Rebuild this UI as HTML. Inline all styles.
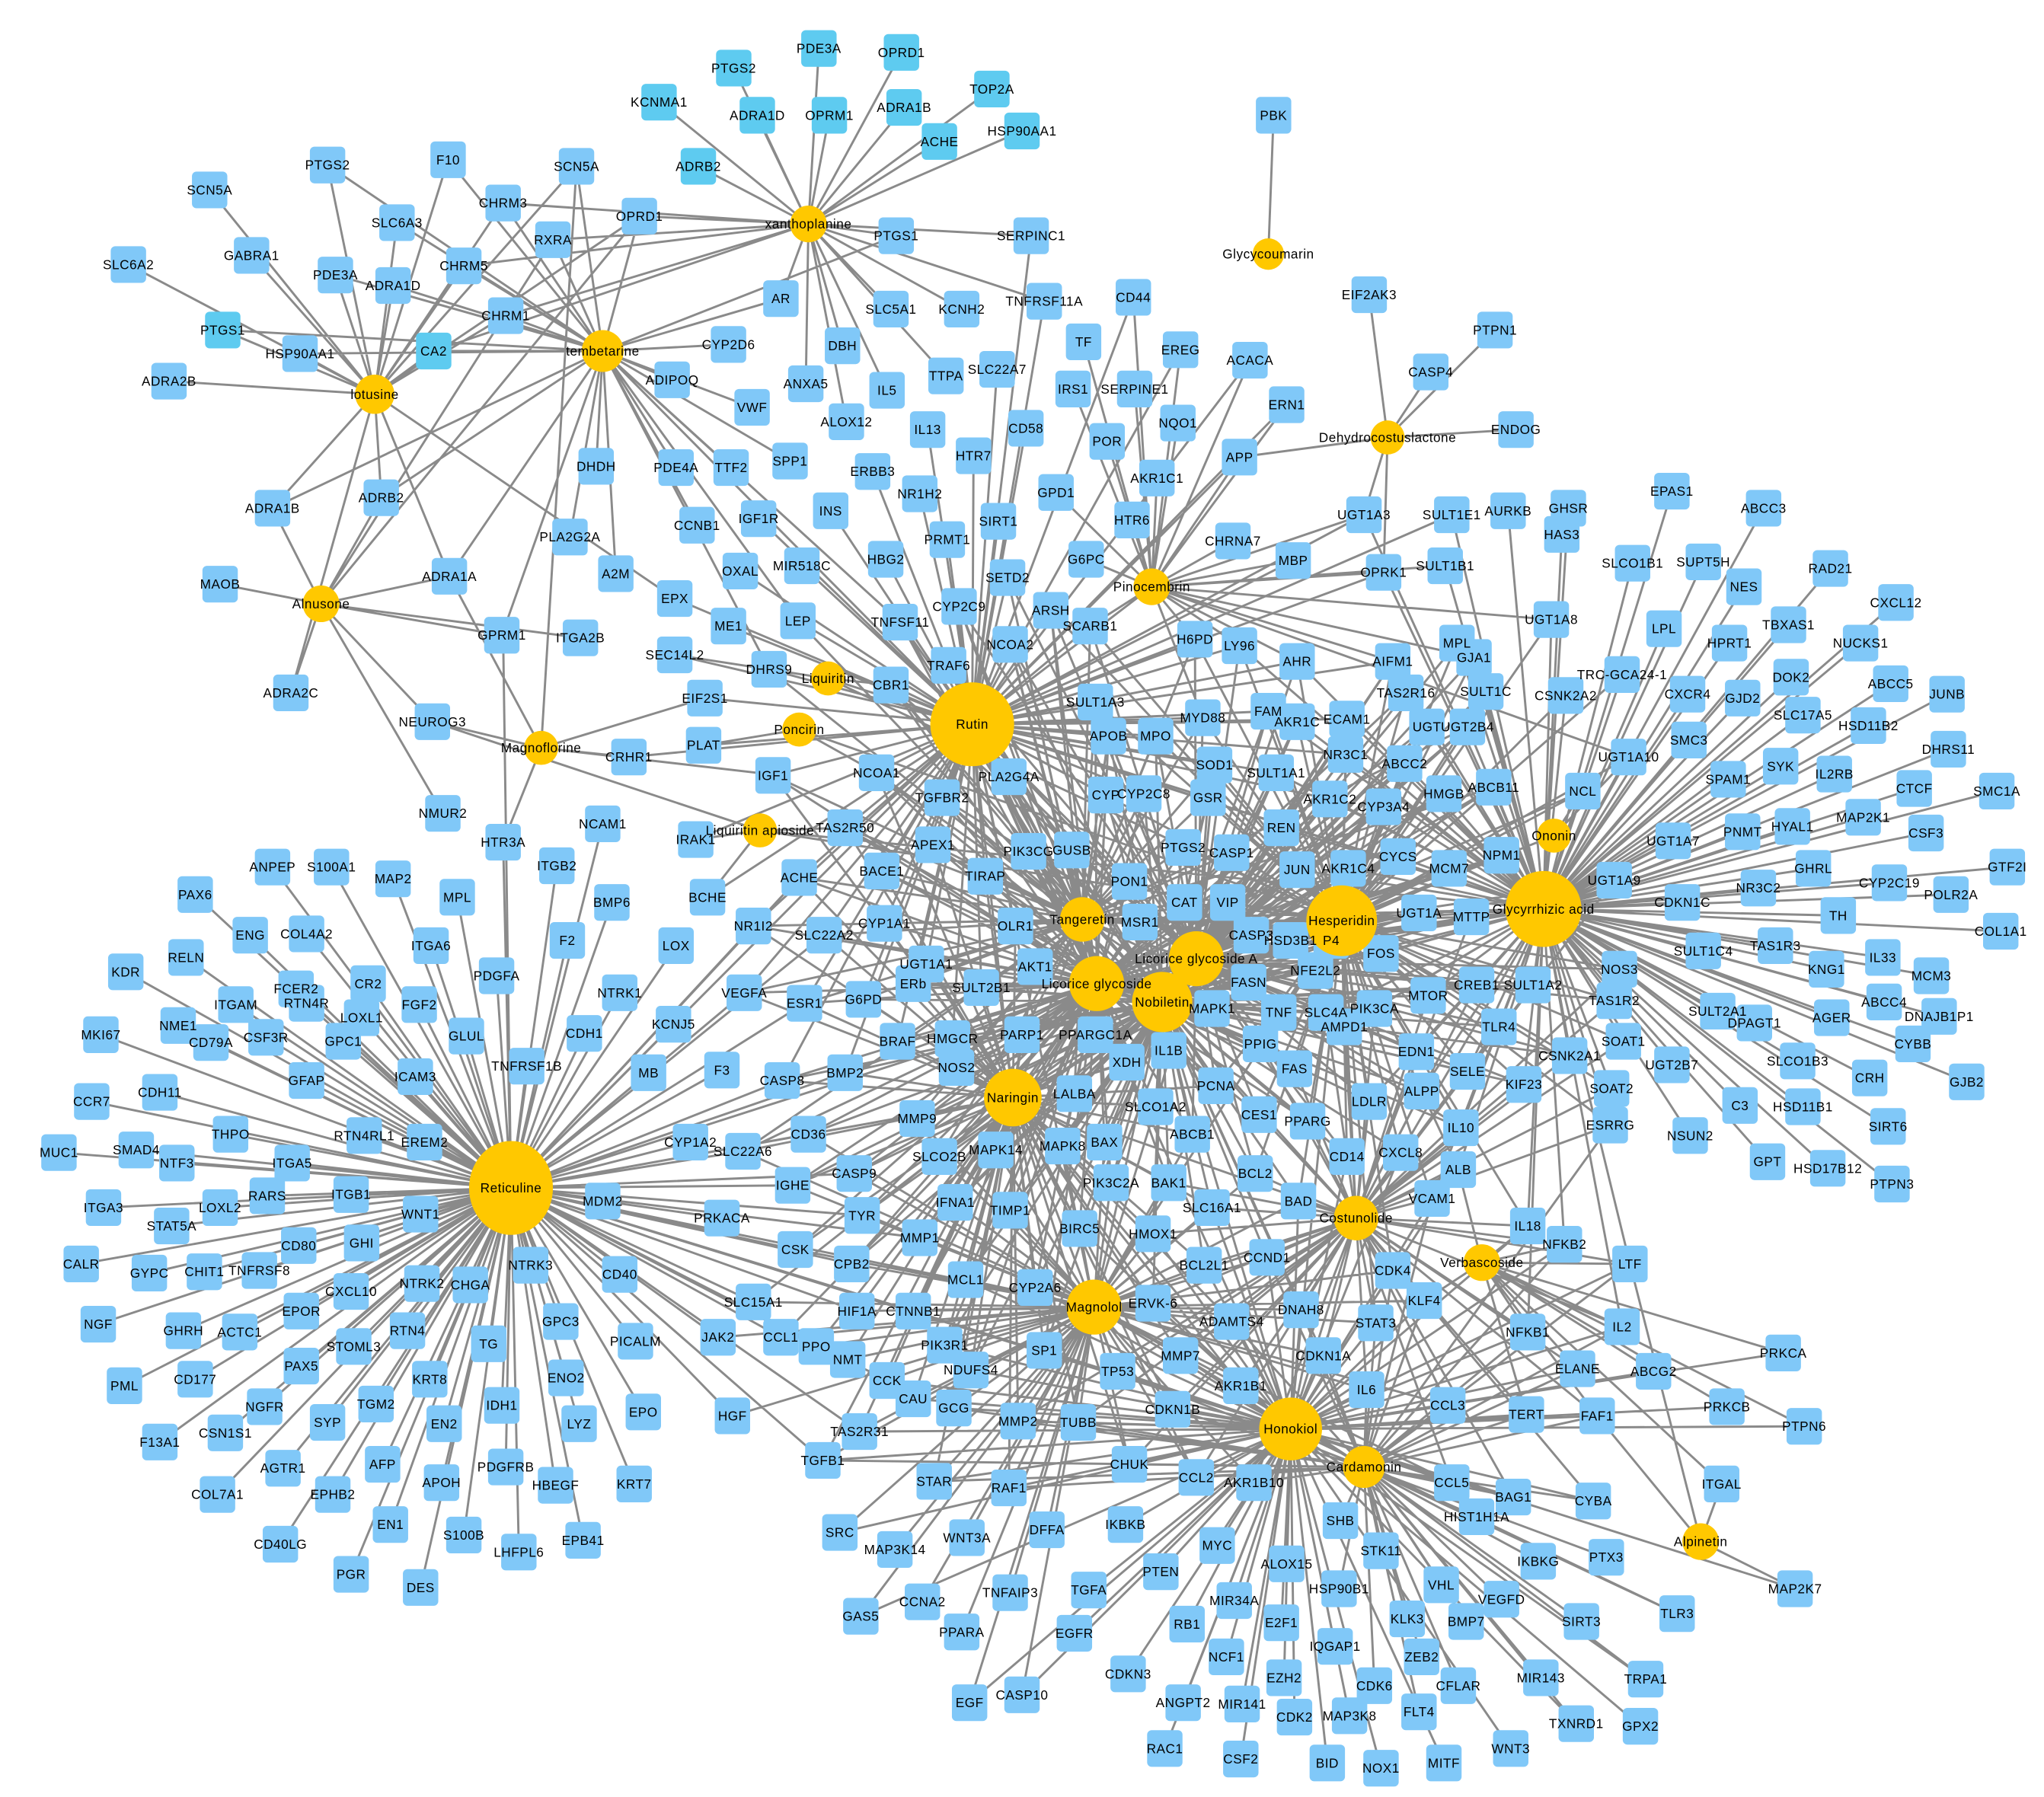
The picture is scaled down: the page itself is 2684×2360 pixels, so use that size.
<!DOCTYPE html>
<html><head><meta charset="utf-8"><style>
html,body{margin:0;padding:0;background:#fff;}
svg{display:block;}
text{font-family:"Liberation Sans",Arial,sans-serif;font-size:10px;fill:#000;text-anchor:middle;dominant-baseline:central;letter-spacing:0.3px;}
</style></head><body>
<svg id="s" width="2684" height="2360" viewBox="0 0 1560 1372" preserveAspectRatio="none" xmlns="http://www.w3.org/2000/svg">
<g id="E" stroke="#8a8a8a" stroke-width="1.7" fill="none"></g>
<g id="N"></g>
<g id="T"></g>
</svg>
<script>
var H=[["xanthoplanine",617,171,14],["tembetarine",460,268,16],["lotusine",286,301,15],["Alnusone",245,461,14],["Magnoflorine",413,571,13],["Liquiritin",632,518,13],["Poncirin",610,557,13],["Liquiritin apioside",580,634,13],["Rutin",742,553,32],["Reticuline",390,907,32],["Glycycoumarin",968,194,12],["Dehydrocostuslactone",1059,334,13],["Pinocembrin",879,448,14],["Hesperidin",1024,703,27],["Glycyrrhizic acid",1178,694,29],["Ononin",1186,638,13],["Tangeretin",826,702,17],["Licorice glycoside A",913,732,21],["Licorice glycoside",837,751,21],["Nobiletin",887,765,23],["Naringin",773,838,22],["Costunolide",1035,930,17],["Verbascoside",1131,964,14],["Magnolol",835,998,21],["Honokiol",985,1091,24],["Cardamonin",1041,1120,16],["Alpinetin",1298,1177,14]];
var AUTO=["xanthoplanine","tembetarine","lotusine","Alnusone","Rutin","Reticuline","Pinocembrin","Hesperidin","Glycyrrhizic acid","Tangeretin","Licorice glycoside A","Licorice glycoside","Nobiletin","Naringin","Costunolide","Magnolol","Honokiol","Cardamonin","Verbascoside"];
var B="PDE3A 625 37;OPRD1 688 40;PTGS2 560 52;KCNMA1 503 78;ADRA1D 578 88;OPRM1 633 88;ADRA1B 690 82;TOP2A 757 68;ACHE 717 108;HSP90AA1 780 100;ADRB2 533 127;PBK 972 88;PTGS2 250 126;F10 342 122;SCN5A 440 127;SCN5A 160 145;CHRM3 384 155;OPRD1 488 165;SLC6A3 303 170;GABRA1 192 195;RXRA 422 183;CHRM5 354 203;SLC6A2 98 202;PDE3A 256 210;ADRA1D 300 218;PTGS1 684 180;SERPINC1 787 180;CHRM1 386 241;PTGS1 170 252;CA2 331 268;HSP90AA1 229 270;ADRA2B 129 291;AR 596 228;KCNH2 734 236;TNFRSF11A 797 230;CD44 865 227;SLC5A1 680 236;CYP2D6 556 263;DBH 643 264;TF 827 261;EREG 901 267;ACACA 954 275;EIF2AK3 1045 225;PTPN1 1141 252;CASP4 1092 284;ENDOG 1157 328;ERN1 982 309;APP 946 349;ADIPOQ 513 290;ANXA5 615 293;VWF 574 311;IL5 677 298;TTPA 722 287;SLC22A7 761 282;IRS1 819 297;SERPINE1 866 297;NQO1 899 323;ALOX12 646 322;IL13 708 328;CD58 783 327;POR 845 337;ADRA1B 208 388;ADRB2 291 380;DHDH 455 356;PDE4A 516 357;TTF2 558 357;SPP1 603 352;ERBB3 666 360;NR1H2 702 377;HTR7 743 348;GPD1 806 376;AKR1C1 883 365;INS 634 390;IGF1R 579 396;HTR6 864 397;PRMT1 723 412;SIRT1 762 398;CCNB1 532 401;PLA2G2A 435 410;A2M 470 438;OXAL 565 436;MIR518C 612 432;HBG2 676 427;SETD2 769 441;G6PC 829 427;CHRNA7 941 413;MBP 987 428;ADRA1A 343 440;MAOB 168 446;EPX 515 457;ME1 556 478;LEP 609 474;TNFSF11 687 475;CYP2C9 732 463;ARSH 802 466;NCOA2 771 492;SCARB1 832 478;H6PD 912 488;LY96 946 493;GPRM1 383 485;ITGA2B 443 487;DHRS9 587 511;SEC14L2 515 500;TRAF6 724 508;CBR1 680 523;AHR 990 505;ADRA2C 222 529;EIF2S1 538 533;NEUROG3 330 551;PLAT 537 569;CRHR1 480 578;SULT1A3 836 536;APOB 846 562;MPO 882 562;MYD88 918 548;SOD1 927 584;FAM 968 543;ECAM1 1028 549;AKR1C 990 551;NR3C1 1027 576;IGF1 590 592;NCOA1 669 590;TGFBR2 719 609;PLA2G4A 770 593;CYP 844 607;CYP2C8 873 606;GSR 922 609;SULT1A1 974 590;AKR1C2 1015 610;CYP3A4 1056 616;NMUR2 338 621;NCAM1 460 629;IRAK1 531 641;TAS2R50 645 632;REN 978 632;HMGB 1102 606;ABCC2 1072 583;NCL 1208 604;HTR3A 384 643;ITGB2 425 661;APEX1 712 645;PIK3CG 785 650;GUSB 818 649;PTGS2 903 647;CASP1 940 651;JUN 990 664;AKR1C4 1029 663;CYCS 1067 654;MCM7 1106 663;NPM1 1146 653;ACHE 610 670;BACE1 673 665;TIRAP 752 669;PON1 862 673;BMP6 467 689;BCHE 540 685;ANPEP 208 662;S100A1 253 662;MAP2 300 671;MPL 349 685;PAX6 149 683;ENG 191 714;COL4A2 234 713;ITGA6 329 722;F2 433 718;CYP1A1 675 705;OLR1 775 707;CAT 904 689;VIP 937 689;MSR1 870 704;CASP3 955 714;HSD3B1 985 718;P4 1016 718;LOX 516 722;NR1I2 575 707;SLC22A2 629 714;UGT1A1 707 736;AKT1 790 738;FOS 1054 728;MTTP 1123 700;UGT1A 1083 697;RELN 142 731;CR2 281 751;FCER2 226 755;KDR 96 742;PDGFA 379 745;NTRK1 473 758;ITGAM 180 767;NME1 136 783;RTN4R 234 766;LOXL1 276 777;FGF2 320 767;GLUL 356 791;CDH1 446 789;VEGFA 568 758;ESR1 614 766;G6PD 659 763;ERb 697 751;SULT2B1 749 754;FASN 953 750;NFE2L2 1004 741;MAPK1 925 770;TNF 976 773;SLC4A 1012 773;PIK3CA 1049 770;MTOR 1090 760;CREB1 1127 752;SULT1A2 1170 752;NOS3 1236 740;TAS1R2 1232 764;UGT1A9 1232 672;CDKN1C 1284 689;NR3C2 1342 678;TH 1403 699;GHRL 1384 663;MKI67 77 790;CD79A 161 796;CSF3R 203 792;GPC1 262 795;ICAM3 317 822;TNFRSF1B 402 814;KCNJ5 514 782;BRAF 685 795;HMGCR 727 793;PARP1 780 790;PPARGC1A 836 790;IL1B 892 802;PPIG 962 797;AMPD1 1026 784;EDN1 1081 803;TLR4 1144 784;CSNK2A1 1198 806;KIF23 1163 828;SOAT1 1239 795;CDH11 122 834;GFAP 234 825;THPO 176 866;RTN4RL1 278 867;EREM2 324 872;MB 495 819;F3 551 817;CASP8 597 825;BMP2 645 819;NOS2 730 815;XDH 860 811;FAS 988 816;LDLR 1045 841;ALPP 1085 833;SELE 1120 818;SOAT2 1230 831;ESRRG 1229 859;CCR7 70 841;SMAD4 104 878;MUC1 45 880;NTF3 135 888;ITGA5 223 888;CD36 617 866;MMP9 700 854;LALBA 820 835;PCNA 928 829;CES1 961 851;PPARG 998 856;IL10 1115 861;NSUN2 1290 867;C3 1328 844;GPT 1349 887;SLCO1B3 1372 810;HSD11B1 1376 845;CRH 1427 823;SIRT6 1441 860;HSD17B12 1395 892;PTPN3 1444 904;UGT2B7 1276 813;DPAGT1 1339 781;AGER 1398 777;ABCC4 1438 765;DNAJB1P1 1480 776;CYBB 1460 797;GJB2 1501 826;MCM3 1474 745;IL33 1437 731;KNG1 1394 740;TAS1R3 1355 722;SULT1C4 1300 726;SULT2A1 1311 772;ITGA3 79 922;LOXL2 168 922;RARS 204 913;STAT5A 131 936;ITGB1 268 912;WNT1 321 927;CALR 62 965;CD80 228 951;GHI 276 949;GYPC 114 972;CHIT1 156 971;TNFRSF8 198 970;CXCL10 268 986;NTRK2 322 980;CHGA 359 981;NTRK3 405 966;EPOR 230 1001;NGF 75 1011;GHRH 140 1016;ACTC1 183 1017;STOML3 270 1028;RTN4 311 1016;PAX5 230 1043;CD177 149 1053;KRT8 328 1053;TG 373 1026;GPC3 428 1009;ENO2 432 1052;PML 95 1058;NGFR 202 1074;TGM2 287 1072;EN2 339 1087;IDH1 383 1073;LYZ 442 1087;EPO 491 1078;F13A1 122 1101;CSN1S1 172 1094;SYP 250 1086;AFP 292 1118;COL7A1 166 1141;AGTR1 216 1121;EPHB2 254 1141;APOH 337 1132;PDGFRB 386 1120;HBEGF 424 1134;KRT7 484 1133;EN1 298 1164;CD40LG 214 1179;S100B 354 1172;LHFPL6 396 1185;EPB41 445 1176;PGR 268 1202;DES 321 1212;MDM2 460 917;CYP1A2 527 872;SLC22A6 567 879;CASP9 652 896;MAPK14 760 878;MAPK8 811 875;BAX 843 872;SLCO2B 717 883;SLCO1A2 882 845;ABCB1 910 866;CD14 1028 883;CXCL8 1069 880;ALB 1113 893;IGHE 605 905;TYR 658 928;PIK3C2A 848 903;BAK1 892 903;BCL2 958 896;BAD 991 917;PRKACA 551 930;IFNA1 729 918;TIMP1 771 924;SLC16A1 925 922;VCAM1 1093 915;CSK 607 954;BIRC5 824 938;HMOX1 880 942;IL18 1166 936;NFKB2 1194 950;CD40 473 973;CPB2 650 965;MMP1 702 945;MCL1 737 977;BCL2L1 919 966;CCND1 967 960;CDK4 1063 970;LTF 1244 965;SLC15A1 575 994;JAK2 548 1021;CCL1 596 1021;HIF1A 654 1001;CTNNB1 697 1001;CYP2A6 790 983;ERVK-6 880 995;KLF4 1087 993;PICALM 485 1024;PPO 623 1028;NMT 647 1038;PIK3R1 721 1027;SP1 797 1031;ADAMTS4 940 1009;DNAH8 993 1000;STAT3 1050 1010;NFKB1 1166 1017;IL2 1238 1013;PRKCA 1361 1033;MMP7 901 1035;CDKN1A 1010 1035;ELANE 1204 1045;ABCG2 1262 1047;CCK 677 1054;NDUFS4 741 1046;TP53 853 1047;AKR1B1 947 1058;IL6 1043 1061;CAU 697 1068;GCG 728 1075;HGF 559 1081;CDKN1B 895 1076;CCL3 1105 1073;TERT 1165 1080;FAF1 1219 1081;PRKCB 1318 1074;PTPN6 1377 1089;TAS2R31 656 1093;MMP2 777 1085;TUBB 823 1086;TGFB1 628 1115;CHUK 862 1118;STAR 713 1131;RAF1 770 1136;CCL2 913 1128;AKR1B10 957 1132;CCL5 1108 1132;BAG1 1155 1143;CYBA 1216 1146;ITGAL 1314 1133;SRC 641 1170;MAP3K14 683 1183;WNT3A 738 1174;DFFA 799 1168;IKBKB 859 1164;MYC 929 1180;SHB 1023 1161;STK11 1054 1184;HIST1H1A 1127 1158;IKBKG 1174 1192;PTX3 1226 1189;ALOX15 982 1194;GAS5 657 1234;CCNA2 704 1223;TNFAIP3 771 1216;TGFA 831 1214;PTEN 886 1200;HSP90B1 1022 1213;VHL 1100 1210;VEGFD 1146 1221;SIRT3 1207 1238;TLR3 1280 1232;MAP2K7 1370 1213;MIR34A 942 1222;PPARA 734 1246;EGFR 820 1247;RB1 906 1240;E2F1 978 1239;IQGAP1 1019 1257;KLK3 1074 1236;ZEB2 1085 1265;BMP7 1119 1238;CDKN3 861 1278;ANGPT2 903 1300;NCF1 936 1265;EZH2 980 1281;CDK6 1049 1287;CFLAR 1113 1287;MIR143 1176 1281;TRPA1 1256 1282;CASP10 780 1294;MIR141 948 1301;CDK2 988 1311;MAP3K8 1030 1310;FLT4 1083 1307;WNT3 1153 1335;TXNRD1 1203 1316;GPX2 1252 1318;EGF 740 1300;RAC1 889 1335;CSF2 947 1343;BID 1013 1346;NOX1 1054 1350;MITF 1102 1346;UGT1A3 1041 393;SULT1E1 1108 393;AURKB 1151 390;GHSR 1197 388;EPAS1 1276 375;ABCC3 1346 388;HAS3 1192 408;SLCO1B1 1246 430;SUPT5H 1300 429;RAD21 1397 434;OPRK1 1056 437;SULT1B1 1103 432;NES 1331 448;CXCL12 1447 460;UGT1A8 1184 473;LPL 1270 480;HPRT1 1320 491;TBXAS1 1365 477;NUCKS1 1420 491;AIFM1 1063 505;MPL 1112 491;GJA1 1125 502;TRC-GCA24-1 1238 515;DOK2 1367 517;ABCC5 1443 522;JUNB 1486 530;TAS2R16 1073 529;SULT1C 1134 528;CSNK2A2 1195 531;CXCR4 1288 530;GJD2 1330 533;SLC17A5 1376 546;HSD11B2 1426 554;UGT2B4 1120 555;UGT 1089 555;SMC3 1289 565;DHRS11 1487 572;SYK 1359 585;SPAM1 1319 595;IL2RB 1400 591;CTCF 1461 602;SMC1A 1524 604;UGT1A10 1243 578;ABCB11 1140 601;PNMT 1330 635;HYAL1 1368 631;MAP2K1 1422 624;CSF3 1470 636;UGT1A7 1277 642;GTF2I 1532 662;CYP2C19 1442 674;POLR2A 1489 683;COL1A1 1527 711";
var ns="http://www.w3.org/2000/svg";
var E=document.getElementById("E"),N=document.getElementById("N"),T=document.getElementById("T");
function el(p,t,a){var e=document.createElementNS(ns,t);for(var k in a)e.setAttribute(k,a[k]);p.appendChild(e);return e;}
var pd="";
function line(a,b,c,d){pd+="M"+a+" "+b+"L"+c+" "+d;}
var nodes=B.split(";").map(function(s){var p=s.trim().split(" ");return [p[0],+p[1],+p[2]];});
function hidx(n){for(var i=0;i<H.length;i++)if(H[i][0]==n)return H[i];}
var AH=H.filter(function(h){return AUTO.indexOf(h[0])>=0;});
var skip=["PBK","EIF2AK3","PTPN1","CASP4","ENDOG"];
nodes.forEach(function(n){
  var x=n[1],y=n[2];
  if(skip.indexOf(n[0])>=0)return;
  var sc=AH.map(function(h){var d=Math.hypot(h[1]-x,h[2]-y);return [d/Math.sqrt(h[3]),h,d];});
  sc.sort(function(a,b){return a[0]-b[0];});
  line(sc[0][1][1],sc[0][1][2],x,y);
  var central=(x>560&&x<1260&&y>440&&y<1150);
  if(central){var c=0;for(var i=1;i<sc.length&&c<4;i++){if(sc[i][2]<330&&sc[i][1][3]>=16){line(sc[i][1][1],sc[i][1][2],x,y);c++;}}}
  else if(x>1190&&y>420&&y<900){var h=hidx("Glycyrrhizic acid");if(sc[0][1]!==h)line(h[1],h[2],x,y);}
});
var extra=[["tembetarine",250,126],["tembetarine",342,122],["tembetarine",440,127],["tembetarine",384,155],["tembetarine",303,170],["tembetarine",422,183],["tembetarine",354,203],["tembetarine",256,210],["tembetarine",300,218],["tembetarine",386,241],["tembetarine",331,268],["tembetarine",229,270],["tembetarine",170,252],["tembetarine",208,388],["tembetarine",291,380],["tembetarine",343,440],["tembetarine",383,485],["tembetarine",684,180],["tembetarine",596,228],["tembetarine",488,165],["tembetarine",742,553],["lotusine",160,145],["lotusine",192,195],["lotusine",98,202],["lotusine",129,291],["lotusine",208,388],["lotusine",291,380],["lotusine",384,155],["lotusine",342,122],["lotusine",440,127],["lotusine",488,165],["lotusine",386,241],["lotusine",515,457],["lotusine",343,440],["lotusine",222,529],["xanthoplanine",422,183],["xanthoplanine",386,241],["xanthoplanine",354,203],["xanthoplanine",331,268],["xanthoplanine",488,165],["xanthoplanine",596,228],["xanthoplanine",734,236],["xanthoplanine",384,155],["xanthoplanine",684,180],["Alnusone",168,446],["Alnusone",222,529],["Alnusone",208,388],["Alnusone",291,380],["Alnusone",330,551],["Alnusone",343,440],["Alnusone",488,165],["Alnusone",422,183],["Magnoflorine",330,551],["Magnoflorine",480,578],["Magnoflorine",538,533],["Magnoflorine",343,440],["Magnoflorine",384,643],["Magnoflorine",440,127],["Magnoflorine",595,592],["Reticuline",384,485],["Reticuline",384,643],["Reticuline",425,661],["Reticuline",460,629],["Reticuline",1024,703],["Reticuline",985,1091],["Reticuline",742,553],["Reticuline",773,838],["Reticuline",835,998],["Rutin",1178,694],["Rutin",1024,703],["Rutin",879,448],["Rutin",985,1091],["Rutin",835,998],["Rutin",773,838],["Rutin",887,765],["Rutin",913,732],["Rutin",826,702],["Rutin",837,751],["Rutin",946,349],["Rutin",954,275],["Rutin",901,267],["Rutin",865,227],["Rutin",797,230],["Rutin",787,180],["Rutin",1041,393],["Rutin",987,428],["Rutin",1108,393],["Rutin",1056,437],["Rutin",982,309],["Pinocembrin",1184,473],["Pinocembrin",1063,505],["Pinocembrin",1125,502],["Pinocembrin",941,413],["Pinocembrin",1243,578],["Pinocembrin",1103,432],["Pinocembrin",1041,393],["Liquiritin",515,500],["Liquiritin",587,511],["Liquiritin",1024,703],["Liquiritin",1178,694],["Liquiritin",680,523],["Poncirin",537,569],["Poncirin",1024,703],["Poncirin",669,590],["Liquiritin apioside",531,641],["Liquiritin apioside",540,685],["Liquiritin apioside",1178,694],["Liquiritin apioside",1024,703],["Liquiritin apioside",330,551],["Liquiritin apioside",645,632],["Dehydrocostuslactone",1045,225],["Dehydrocostuslactone",1141,252],["Dehydrocostuslactone",1092,284],["Dehydrocostuslactone",1157,328],["Dehydrocostuslactone",946,349],["Dehydrocostuslactone",1056,437],["Dehydrocostuslactone",1041,393],["Glycycoumarin",972,88],["Glycyrrhizic acid",1041,393],["Glycyrrhizic acid",1108,393],["Glycyrrhizic acid",1103,432],["Glycyrrhizic acid",1056,437],["Glycyrrhizic acid",1151,390],["Glycyrrhizic acid",1197,388],["Glycyrrhizic acid",1192,408],["Glycyrrhizic acid",1063,505],["Glycyrrhizic acid",1276,375],["Glycyrrhizic acid",1346,388],["Glycyrrhizic acid",1447,460],["Glycyrrhizic acid",1397,434],["Glycyrrhizic acid",1328,844],["Glycyrrhizic acid",1349,887],["Glycyrrhizic acid",1290,867],["Glycyrrhizic acid",1244,965],["Glycyrrhizic acid",1441,860],["Glycyrrhizic acid",1395,892],["Glycyrrhizic acid",1444,904],["Glycyrrhizic acid",1024,703],["Glycyrrhizic acid",887,765],["Ononin",1243,578],["Ononin",1208,604],["Ononin",1024,703],["Honokiol",1361,1033],["Honokiol",1318,1074],["Honokiol",1377,1089],["Honokiol",1262,1047],["Honokiol",1256,1282],["Honokiol",1252,1318],["Honokiol",1203,1316],["Honokiol",1280,1232],["Honokiol",628,1115],["Honokiol",641,1170],["Honokiol",657,1234],["Honokiol",740,1300],["Honokiol",889,1335],["Honokiol",1153,1335],["Honokiol",835,998],["Honokiol",773,838],["Honokiol",1024,703],["Honokiol",887,765],["Honokiol",1035,930],["Magnolol",628,1115],["Magnolol",641,1170],["Magnolol",657,1234],["Magnolol",740,1300],["Magnolol",780,1294],["Magnolol",559,1081],["Magnolol",548,1021],["Magnolol",1024,703],["Magnolol",887,765],["Verbascoside",1361,1033],["Verbascoside",1318,1074],["Verbascoside",1377,1089],["Verbascoside",1262,1047],["Verbascoside",1204,1045],["Verbascoside",1166,1017],["Verbascoside",1238,1013],["Verbascoside",1244,965],["Alpinetin",1370,1213],["Alpinetin",1244,965],["Alpinetin",1314,1133],["Alpinetin",1219,1081],["Cardamonin",1216,1146],["Cardamonin",1155,1143],["Cardamonin",1226,1189],["Cardamonin",1174,1192],["Cardamonin",1207,1238],["Cardamonin",628,1115],["Costunolide",1024,703],["Costunolide",773,838],["Costunolide",835,998],["Costunolide",887,765],["Naringin",1024,703],["Naringin",887,765],["Naringin",913,732],["Tangeretin",1024,703],["Tangeretin",1178,694],["Nobiletin",1178,694],["Nobiletin",1024,703],["Licorice glycoside A",1178,694],["Licorice glycoside",1178,694]];
extra.forEach(function(e){var h=hidx(e[0]);line(h[1],h[2],e[1],e[2]);});
el(E,"path",{d:pd});
nodes.forEach(function(n){
  var c=(n[2]<130&&n[1]>490&&n[1]<800)||(n[0]=="CA2")||(n[0]=="PTGS1"&&n[1]<200)?"#5ecbf0":"#80c8f8";
  el(N,"rect",{x:n[1]-13.5,y:n[2]-14,width:27,height:28,rx:3.5,fill:c});
  var t=el(T,"text",{x:n[1],y:n[2]});t.textContent=n[0];
});
H.forEach(function(h){
  var ry=h[0]=="Reticuline"?h[3]*1.12:h[3];
  el(N,"ellipse",{cx:h[1],cy:h[2],rx:h[3],ry:ry,fill:"#ffc800"});
  var t=el(T,"text",{x:h[1],y:h[2]});t.textContent=h[0];
});
</script>
</body></html>
